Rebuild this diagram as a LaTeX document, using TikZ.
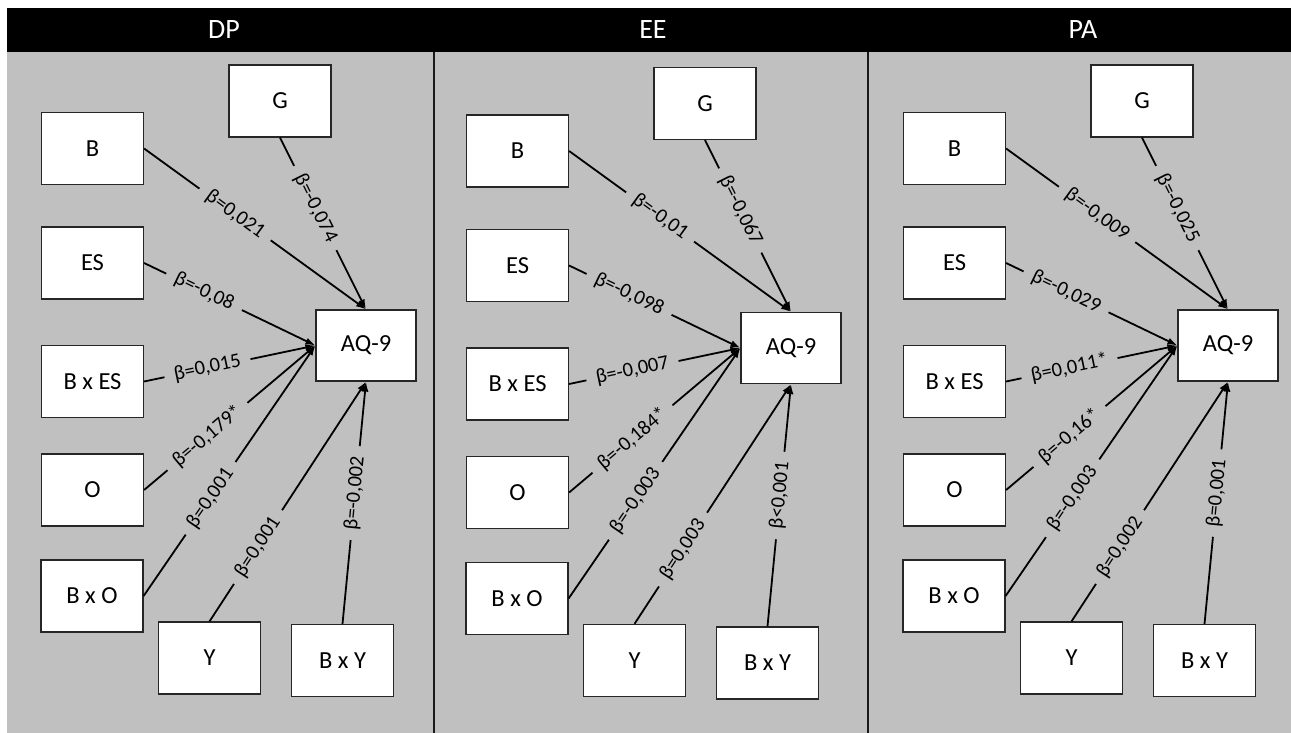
\documentclass[tikz,border=0pt]{standalone}
\usepackage{fontspec}
\setmainfont{Carlito}
\usetikzlibrary{arrows.meta}
\definecolor{bg}{RGB}{192,192,192}
\tikzset{
  box/.style={draw=black!85, line width=1.2pt, fill=white, minimum width=102pt, minimum height=72pt, inner sep=0pt, font=\fontsize{24.5}{25}\selectfont},
  arr/.style={draw=black, line width=1.8pt, -{Latex[length=10pt,width=7pt]}},
  lbl/.style={sloped, fill=bg, inner xsep=10pt, inner ysep=0.5pt, font=\fontsize{20.5}{21}\selectfont},
  head/.style={text=white, font=\fontsize{28}{28}\selectfont}
}
\newcommand\panelnodes[1]{%
  \node[box] (#1G)  at (280,101)   {G};
  \node[box] (#1B)  at (92.5,148.5) {B};
  \node[box] (#1ES) at (92.5,263)  {ES};
  \node[box] (#1BES) at (92.5,381.5) {B x ES};
  \node[box] (#1O)  at (92.5,490)  {O};
  \node[box] (#1BO) at (92,596)    {B x O};
  \node[box] (#1Y)  at (209.5,658) {Y};
  \node[box] (#1BY) at (342.5,660.5) {B x Y};
  \node[box, minimum width=100pt, minimum height=71pt] (#1AQ) at (366,345.5) {AQ-9};
}
\newcommand\paneledges[9]{%
  \draw[arr] (#1B.east) -- node[lbl,pos=0.41] {#2} (#1AQ.north);
  \draw[arr] (#1G.south) -- node[lbl,pos=0.41] {#3} (#1AQ.north);
  \draw[arr] (#1ES.east) -- node[lbl,pos=0.35] {#4} (#1AQ.west);
  \draw[arr] (#1BES.east) -- node[lbl,pos=0.37] {#5} (#1AQ.west);
  \draw[arr] (#1O.east) -- node[lbl,pos=0.37] {#6} (#1AQ.west);
  \draw[arr] (#1BO.east) -- node[lbl,pos=0.39] {#7} (#1AQ.west);
  \draw[arr] (#1Y.north) -- node[lbl,pos=0.31] {#8} (#1AQ.south);
  \draw[arr] (#1BY.north) -- node[lbl,pos=0.54] {#9} (#1AQ.south);
}
\begin{document}
\begin{tikzpicture}[x=1pt,y=-1pt]
\useasboundingbox (0,0) rectangle (1291,733);
\fill[white] (0,0) rectangle (1291,733);
\fill[bg] (7,8) rectangle (1291,733);
\fill[black] (7,8) rectangle (1291,52);
\draw[black!90, line width=2pt] (433.5,52) -- (433.5,733);
\draw[black!90, line width=2pt] (868,52) -- (868,733);
\node[head] (hDP) at (224,30) {DP};
\node[head] (hEE) at (653,30) {EE};
\node[head] (hPA) at (1083,30) {PA};
\begin{scope}
  \panelnodes{dp}
  \paneledges{dp}{β=0,021}{β=-0,074}{β=-0,08}{β=0,015}{β=-0,179*}{β=0,001}{β=0,001}{β=-0,002}
\end{scope}
\begin{scope}[shift={(425,2.5)}]
  \panelnodes{ee}
  \paneledges{ee}{β=-0,01}{β=-0,067}{β=-0,098}{β=-0,007}{β=-0,184*}{β=-0,003}{β=0,003}{β<0,001}
\end{scope}
\begin{scope}[shift={(862,0)}]
  \panelnodes{pa}
  \paneledges{pa}{β=-0,009}{β=-0,025}{β=-0,029}{β=0,011*}{β=-0,16*}{β=-0,003}{β=0,002}{β=0,001}
\end{scope}
\end{tikzpicture}
\end{document}
